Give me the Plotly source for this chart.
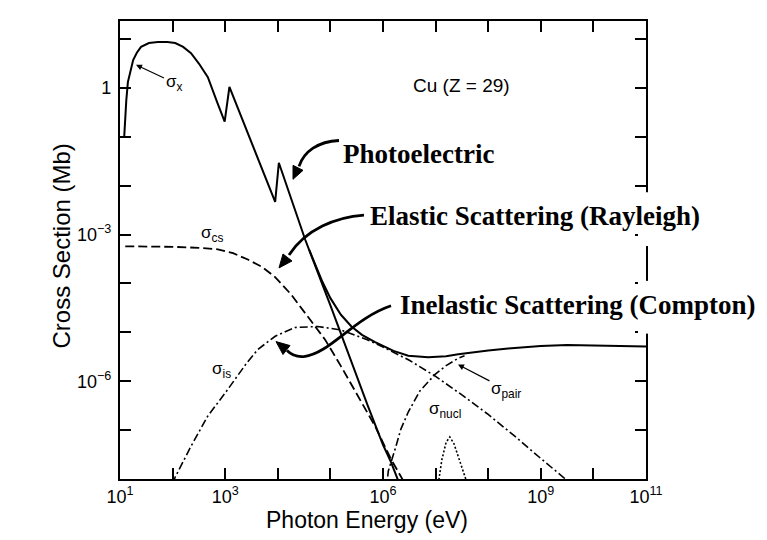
import plotly.graph_objects as go

# ---- values: log10(E / eV), log10(sigma / Mb) ----
photo_logE = [1.08, 1.10, 1.12, 1.15, 1.20, 1.25, 1.32, 1.40, 1.55, 1.72, 1.90, 2.05, 2.20, 2.35,
              2.50, 2.67, 2.85, 2.99, 3.08, 3.50, 3.95, 4.02, 4.52, 5.00, 5.50, 5.71, 6.00, 6.15, 6.35]
photo_logS = [-1.00, -0.55, -0.25, 0.12, 0.38, 0.57, 0.72, 0.84, 0.92, 0.94, 0.94, 0.92, 0.84, 0.71,
              0.50, 0.22, -0.30, -0.69, 0.02, -1.10, -2.33, -1.53, -3.10, -4.45, -5.90, -6.50, -7.30, -7.65, -8.20]

rayl_logE = [1.10, 1.50, 2.00, 2.50, 2.86, 3.15, 3.43, 3.70, 3.94, 4.25, 4.57, 4.90, 5.20, 5.50, 5.85, 6.15, 6.42]
rayl_logS = [-3.24, -3.24, -3.25, -3.27, -3.30, -3.38, -3.51, -3.66, -3.86, -4.22, -4.67, -5.15, -5.69, -6.25, -6.92, -7.59, -8.10]

comp_logE = [2.00, 2.05, 2.35, 2.67, 3.00, 3.19, 3.40, 3.62, 3.95, 4.33, 4.76, 5.20, 5.70, 6.00, 6.50,
             7.00, 7.50, 8.00, 8.50, 9.00, 9.60]
comp_logS = [-8.10, -7.96, -7.33, -6.71, -6.24, -5.96, -5.64, -5.35, -5.08, -4.90, -4.88, -4.95, -5.15, -5.30, -5.57,
             -5.90, -6.28, -6.68, -7.12, -7.58, -8.12]

total_logE = [4.60, 4.85, 5.00, 5.20, 5.40, 5.60, 5.85, 6.20, 6.48, 6.86, 7.20, 7.43, 8.00, 8.38, 9.00, 9.50, 10.0, 11.0]
total_logS = [-3.32, -3.97, -4.30, -4.64, -4.88, -5.05, -5.20, -5.38, -5.48, -5.51, -5.49, -5.45, -5.37, -5.33, -5.28, -5.26, -5.27, -5.29]

pair_logE = [6.03, 6.10, 6.23, 6.34, 6.48, 6.70, 6.99, 7.20, 7.43, 7.55]
pair_logS = [-8.60, -7.84, -7.39, -6.98, -6.63, -6.20, -5.86, -5.68, -5.53, -5.48]

nucl_logE = [7.05, 7.12, 7.20, 7.27, 7.35, 7.45, 7.55, 7.62]
nucl_logS = [-8.10, -7.60, -7.25, -7.14, -7.28, -7.60, -7.95, -8.15]

x_label_exps = [1, 3, 6, 9, 11]
x_label_text = ["10<sup>1</sup>", "10<sup>3</sup>", "10<sup>6</sup>", "10<sup>9</sup>", "10<sup>11</sup>"]
x_minor_exps = list(range(1, 12))
y_label_exps = [-6, -3, 0]
y_label_text = ["10<sup>\u22126</sup>", "10<sup>\u22123</sup>", "1"]
y_minor_exps = list(range(-8, 2))


def pw(v):
    return [10 ** a for a in v]


# plot-area geometry in pixels (for layout decorations)
L, R, T, B = 112, 638, 11, 471


def px(x):
    return (x - L) / (R - L)


def py(y):
    return (B - y) / (B - T)


fig = go.Figure()

black = "black"
fig.add_trace(go.Scatter(x=pw(photo_logE), y=pw(photo_logS), mode="lines",
                         line=dict(color=black, width=2), hoverinfo="skip"))
fig.add_trace(go.Scatter(x=pw(rayl_logE), y=pw(rayl_logS), mode="lines",
                         line=dict(color=black, width=1.8, dash="9px,4px"), hoverinfo="skip"))
fig.add_trace(go.Scatter(x=pw(comp_logE), y=pw(comp_logS), mode="lines",
                         line=dict(color=black, width=1.6, dash="8px,3px,2px,3px"), hoverinfo="skip"))
fig.add_trace(go.Scatter(x=pw(pair_logE), y=pw(pair_logS), mode="lines",
                         line=dict(color=black, width=1.6, dash="8px,3px,2px,3px"), hoverinfo="skip"))
fig.add_trace(go.Scatter(x=pw(nucl_logE), y=pw(nucl_logS), mode="lines",
                         line=dict(color=black, width=1.6, dash="2px,2px"), hoverinfo="skip"))
fig.add_trace(go.Scatter(x=pw(total_logE), y=pw(total_logS), mode="lines",
                         line=dict(color=black, width=2), hoverinfo="skip"))

tickfont = dict(family="Liberation Sans, Arial, sans-serif", size=18, color=black)
axis_common = dict(type="log", showline=True, linewidth=2.2, linecolor=black, mirror="ticks",
                   ticks="inside", ticklen=11, tickwidth=1.5, tickcolor=black,
                   showgrid=False, zeroline=False, tickfont=tickfont)

fig.update_xaxes(range=[1, 11], tickmode="array", tickvals=pw(x_label_exps), ticktext=x_label_text,
                 minor=dict(tickmode="array", tickvals=pw(x_minor_exps), ticks="inside", ticklen=11,
                            tickwidth=1.5, tickcolor=black, showgrid=False),
                 ticklabelstandoff=0, **axis_common)
fig.update_yaxes(range=[-8, 1.37], tickmode="array", tickvals=pw(y_label_exps), ticktext=y_label_text,
                 minor=dict(tickmode="array", tickvals=pw(y_minor_exps), ticks="inside", ticklen=11,
                            tickwidth=1.5, tickcolor=black, showgrid=False),
                 ticklabelstandoff=3, **axis_common)

sans = "Liberation Sans, Arial, sans-serif"
serif = "Liberation Serif, Times New Roman, serif"
ann = []
ann.append(dict(x=px(359), y=py(527), xref="paper", yref="paper", text="Photon Energy (eV)",
                showarrow=False, font=dict(family=sans, size=23, color=black)))
ann.append(dict(x=px(38), y=py(237), xref="paper", yref="paper", text="Cross Section (Mb)",
                textangle=-90, showarrow=False, font=dict(family=sans, size=24, color=black)))
ann.append(dict(x=px(403), y=py(63), xref="paper", yref="paper", text="Cu (Z = 29)", xanchor="left",
                showarrow=False, font=dict(family=sans, size=19, color=black)))
ann.append(dict(x=px(333), y=py(128), xref="paper", yref="paper", text="<b>Photoelectric</b>", xanchor="left",
                showarrow=False, font=dict(family=serif, size=27, color=black)))
ann.append(dict(x=px(360), y=py(207), xref="paper", yref="paper", text="<b>Elastic Scattering (Rayleigh)</b>",
                xanchor="left", showarrow=False, font=dict(family=serif, size=27, color=black)))
ann.append(dict(x=px(390), y=py(296), xref="paper", yref="paper", text="<b>Inelastic Scattering (Compton)</b>",
                xanchor="left", showarrow=False, font=dict(family=serif, size=27, color=black)))
sig = dict(family=sans, size=17, color=black)
ann.append(dict(x=px(128), y=py(55), xref="paper", yref="paper", text="\u03c3<sub>x</sub>",
                showarrow=True, ax=38, ay=18, arrowhead=2, arrowsize=1, arrowwidth=1.2,
                arrowcolor=black, font=sig))
ann.append(dict(x=px(450), y=py(356), xref="paper", yref="paper", text="\u03c3<sub>pair</sub>",
                showarrow=True, ax=48, ay=25, arrowhead=2, arrowsize=1, arrowwidth=1.2,
                arrowcolor=black, font=sig))
ann.append(dict(x=px(191), y=py(225), xref="paper", yref="paper", text="\u03c3<sub>cs</sub>",
                showarrow=False, font=sig))
ann.append(dict(x=px(202), y=py(375), xref="paper", yref="paper", text="\u03c3<sub>is</sub>",
                showarrow=False, font=sig))
ann.append(dict(x=px(437), y=py(415), xref="paper", yref="paper", text="\u03c3<sub>nucl</sub>",
                showarrow=False, font=sig))


def path_of(pts, close=False, curve=None):
    if curve is None:
        s = "M " + " L ".join(f"{px(a):.5f},{py(b):.5f}" for a, b in pts)
    else:
        (a0, b0) = pts[0]
        s = f"M {px(a0):.5f},{py(b0):.5f} C " + " ".join(f"{px(a):.5f},{py(b):.5f}" for a, b in pts[1:])
    if close:
        s += " Z"
    return s


shapes = []
# curved pointer arrows (layout decoration)
shaft_style = dict(type="path", xref="paper", yref="paper", line=dict(color=black, width=2.8), layer="above")
head_style = dict(type="path", xref="paper", yref="paper", line=dict(color=black, width=1),
                  fillcolor=black, layer="above")
# Photoelectric
shapes.append(dict(path=path_of([(331, 131), (310, 132), (296, 142), (291, 157)], curve=True), **shaft_style))
shapes.append(dict(path=path_of([(285, 170), (295, 161), (285, 156)], close=True), **head_style))
# Elastic
shapes.append(dict(path=path_of([(356, 206), (328, 208), (298, 220), (281, 246)], curve=True), **shaft_style))
shapes.append(dict(path=path_of([(271, 259), (284, 252), (275, 245)], close=True), **head_style))
# Inelastic (S-shaped)
shapes.append(dict(path=path_of([(383, 297), (345, 310), (322, 345), (296, 348)], curve=True), **shaft_style))
shapes.append(dict(path=path_of([(296, 348), (287, 349), (282, 345), (279, 342)], curve=True), **shaft_style))
shapes.append(dict(path=path_of([(268, 333), (282, 337), (275, 346)], close=True), **head_style))
# label boxes interrupt the right frame
for y0, y1 in [(183, 237), (272, 325)]:
    shapes.append(dict(type="rect", xref="paper", yref="paper", x0=px(630), x1=px(646), y0=py(y1), y1=py(y0),
                       fillcolor="white", line=dict(width=0), layer="above"))

fig.update_layout(width=767, height=540, margin=dict(l=L, r=767 - R, t=T, b=540 - B, pad=0),
                  plot_bgcolor="white", paper_bgcolor="white", showlegend=False,
                  annotations=ann, shapes=shapes)

fig.write_html("out.html")
